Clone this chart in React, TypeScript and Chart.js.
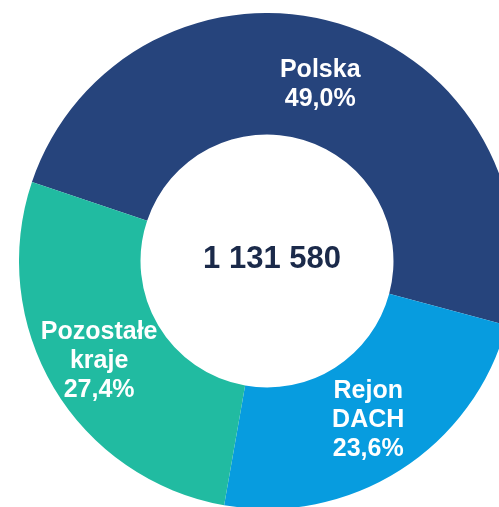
import React, { useEffect, useRef } from "react";
import { Chart, registerables } from "chart.js";

Chart.register(...registerables);

const categories: string[][] = [["Polska"], ["Rejon", "DACH"], ["Pozostałe", "kraje"]];
const shares: number[] = [49.0, 23.6, 27.4];
const totalLabel = "1 131 580";
const colors: string[] = ["#26447C", "#079CDF", "#21BBA1"];
const radiusTweak: number[] = [-3, 1, 8];

const labelPlugin = {
  id: "sliceLabels",
  afterDatasetsDraw(chart: any) {
    const ctx = chart.ctx;
    const meta = chart.getDatasetMeta(0);
    ctx.save();
    ctx.textAlign = "center";
    ctx.textBaseline = "middle";
    let cx = 0;
    let cy = 0;
    meta.data.forEach((arc: any, i: number) => {
      const p = arc.getProps(["x", "y", "startAngle", "endAngle", "innerRadius", "outerRadius"], true);
      cx = p.x;
      cy = p.y;
      const mid = (p.startAngle + p.endAngle) / 2;
      const r = (p.innerRadius + p.outerRadius) / 2 + radiusTweak[i];
      const x = p.x + Math.cos(mid) * r;
      const y = p.y + Math.sin(mid) * r;
      const lines = [...categories[i], shares[i].toFixed(1).replace(".", ",") + "%"];
      const lh = 29;
      ctx.fillStyle = "#FFFFFF";
      ctx.font = "bold 25px 'Liberation Sans', Arial, sans-serif";
      lines.forEach((t, k) => {
        ctx.fillText(t, x, y + (k - (lines.length - 1) / 2) * lh);
      });
    });
    ctx.fillStyle = "#1B2A4A";
    ctx.font = "bold 31px 'Liberation Sans', Arial, sans-serif";
    ctx.fillText(totalLabel, cx + 5, cy - 2);
    ctx.restore();
  },
};

export default function App() {
  const ref = useRef<HTMLCanvasElement | null>(null);
  useEffect(() => {
    if (!ref.current) return;
    const chart = new Chart(ref.current, {
      type: "doughnut",
      data: {
        labels: categories.map((c) => c.join(" ")),
        datasets: [
          {
            data: shares,
            backgroundColor: colors,
            borderWidth: 0,
          },
        ],
      },
      options: {
        responsive: false,
        animation: false,
        cutout: "51%",
        rotation: -71.4,
        layout: { padding: 0 },
        plugins: {
          legend: { display: false },
          tooltip: { enabled: false },
        },
      },
      plugins: [labelPlugin],
    });
    return () => chart.destroy();
  }, []);
  return (
    <div
      style={{
        position: "fixed",
        left: 0,
        top: 0,
        width: 499,
        height: 507,
        overflow: "hidden",
        background: "#FFFFFF",
      }}
    >
      <canvas
        ref={ref}
        width={496}
        height={496}
        style={{ position: "absolute", left: 19, top: 13, width: 496, height: 496 }}
      />
    </div>
  );
}
